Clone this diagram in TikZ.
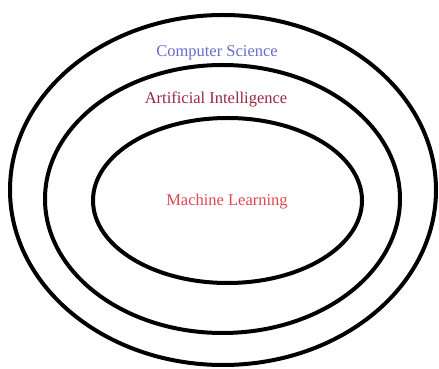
\documentclass[tikz,border=0pt]{standalone}
\usepackage{fontspec}
\setmainfont{Liberation Serif}
\usetikzlibrary{shapes.geometric}
\definecolor{csblue}{RGB}{105,105,205}
\definecolor{aired}{RGB}{150,40,65}
\definecolor{mlred}{RGB}{225,70,80}
\begin{document}
\begin{tikzpicture}[x=1pt,y=1pt,
  ring/.style={draw=black,line width=4pt,ellipse,inner sep=0pt},
  lbl/.style={font=\fontsize{16.5}{18}\selectfont,inner sep=0pt}]
\useasboundingbox (0,0) rectangle (439,369);
\node[ring,minimum width=426pt,minimum height=350pt] (cs) at (223,179) {};
\node[ring,minimum width=355pt,minimum height=268pt] (ai) at (222.5,170) {};
\node[ring,minimum width=269pt,minimum height=165pt] (ml) at (227.5,168.5) {};
\node[lbl,text=csblue] (cst) at (217,316) {Computer Science};
\node[lbl,text=aired] (ait) at (216,270) {Artificial Intelligence};
\node[lbl,text=mlred] (mlt) at (227,167) {Machine Learning};
\end{tikzpicture}
\end{document}
